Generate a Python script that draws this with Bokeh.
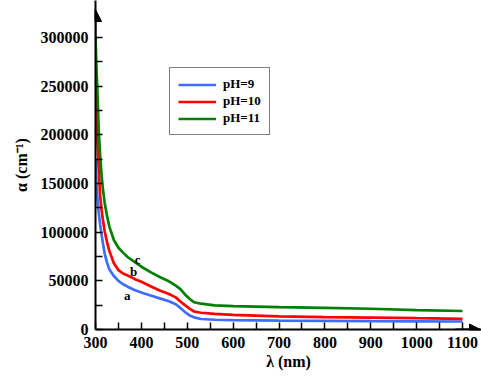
from bokeh.plotting import figure
from bokeh.models import Range1d, FixedTicker, BasicTickFormatter, Label, Arrow, NormalHead
from bokeh.embed import file_html
from bokeh.resources import INLINE

# ---------------- data ----------------
wavelength = [300, 302, 304, 307, 310, 313, 316, 320, 325, 330, 340, 350, 360, 370, 385,
              400, 420, 440, 460, 475, 485, 495, 505, 515, 530, 560, 600, 700, 800, 900,
              1000, 1100]
alpha_ph9 = [175000, 150000, 136000, 120000, 108000, 98000, 89000, 78000, 69000, 62000,
             55000, 50000, 46500, 44000, 40500, 38000, 35000, 32000, 29000, 26000, 22000,
             18000, 14500, 12500, 10800, 10000, 9700, 9200, 8900, 8600, 8400, 8200]
alpha_ph10 = [245000, 215000, 195000, 165000, 138000, 124000, 113000, 101000, 90000, 81000,
              68000, 61000, 57500, 55500, 52000, 49000, 44500, 40000, 36500, 33000, 28800,
              25000, 21500, 18500, 17200, 16000, 15000, 13400, 12800, 12300, 11600, 11000]
alpha_ph11 = [300000, 270000, 247000, 205000, 180000, 160000, 145000, 130000, 117000, 106000,
              92000, 84000, 79000, 74500, 69500, 64500, 59000, 54000, 49500, 45000, 41500,
              36000, 31500, 28000, 26500, 24800, 24000, 23000, 22200, 21300, 20000, 19000]
series_names = ["pH=9", "pH=10", "pH=11"]
x_ticks = [300, 400, 500, 600, 700, 800, 900, 1000, 1100]
x_minor_ticks = [350, 450, 550, 650, 750, 850, 950, 1050]
y_ticks = [0, 50000, 100000, 150000, 200000, 250000, 300000]
y_minor_ticks = [25000, 75000, 125000, 175000, 225000, 275000]
curve_tags = ["a", "b", "c"]
tag_x = [369, 383, 392]
tag_y = [34600, 59300, 71700]

# ---------------- layout (page has no margin) ----------------
W, H = 481, 376
AX_X, AX_Y = 95, 329          # pixel position of the axes' origin
PX_PER_NM = 367 / 800.0
PX_PER_UNIT = 292 / 300000.0
X0, Y0 = 300, 0
BL, BR, BT, BB = AX_X, 0, 0, H - AX_Y
x_end = X0 + (W - BR - AX_X) / PX_PER_NM
y_end = Y0 + (AX_Y - BT) / PX_PER_UNIT

FONT = "Liberation Serif"

p = figure(width=W, height=H, output_backend="svg", toolbar_location=None,
           x_range=Range1d(X0, x_end), y_range=Range1d(Y0, y_end),
           min_border_left=BL, min_border_right=BR, min_border_top=BT,
           min_border_bottom=BB)
p.grid.visible = False
p.outline_line_alpha = 0

colors = ["#3d6eff", "#ff0000", "#008000"]
for ys, name, c in zip([alpha_ph9, alpha_ph10, alpha_ph11], series_names, colors):
    p.line(wavelength, ys, line_color=c, line_width=2.7, legend_label=name)

# axes
p.xaxis.ticker = FixedTicker(ticks=x_ticks, minor_ticks=x_minor_ticks)
p.yaxis.ticker = FixedTicker(ticks=y_ticks, minor_ticks=y_minor_ticks)
p.yaxis.formatter = BasicTickFormatter(use_scientific=False)
p.xaxis.axis_line_width = 2
p.yaxis.axis_line_width = 2
p.xaxis.axis_line_color = "black"
p.yaxis.axis_line_color = "black"
p.xaxis.major_tick_line_width = 1.5
p.yaxis.major_tick_line_width = 1.5
p.xaxis.minor_tick_line_width = 1.5
p.yaxis.minor_tick_line_width = 1.5
p.xaxis.major_tick_in = 7
p.yaxis.major_tick_in = 7
p.xaxis.major_tick_out = 0
p.yaxis.major_tick_out = 0
p.xaxis.minor_tick_in = 7
p.yaxis.minor_tick_in = 7
p.xaxis.minor_tick_out = 0
p.yaxis.minor_tick_out = 0
p.xaxis.major_label_text_font = FONT
p.yaxis.major_label_text_font = FONT
p.xaxis.major_label_text_font_style = "bold"
p.yaxis.major_label_text_font_style = "bold"
p.xaxis.major_label_text_font_size = "16px"
p.yaxis.major_label_text_font_size = "16px"
p.xaxis.major_label_text_color = "black"
p.yaxis.major_label_text_color = "black"
p.xaxis.axis_label_text_font = FONT
p.yaxis.axis_label_text_font = FONT
p.xaxis.axis_label_text_font_style = "bold"
p.yaxis.axis_label_text_font_style = "bold"
p.xaxis.axis_label_text_font_size = "16px"
p.yaxis.axis_label_text_font_size = "16px"
p.xaxis.axis_label_text_color = "black"
p.yaxis.axis_label_text_color = "black"
p.xaxis.major_label_standoff = 7
p.xaxis.axis_label = "λ (nm)"
p.xaxis.axis_label_standoff = 2
p.yaxis.major_label_standoff = 7
p.yaxis.axis_label = "α (cm⁻¹)"
p.yaxis.axis_label_standoff = 8

# arrow heads at the ends of the axes
p.add_layout(Arrow(end=NormalHead(size=12, fill_color="black", line_color="black"),
                   x_start=X0, y_start=Y0 + (AX_Y - 40) / PX_PER_UNIT,
                   x_end=X0, y_end=Y0 + (AX_Y - 9) / PX_PER_UNIT,
                   line_color="black", line_width=2))
p.add_layout(Arrow(end=NormalHead(size=11, fill_color="black", line_color="black"),
                   x_start=X0 + (455 - AX_X) / PX_PER_NM, y_start=Y0,
                   x_end=X0 + (480 - AX_X) / PX_PER_NM, y_end=Y0,
                   line_color="black", line_width=2))

# curve tags
for t, tx, ty in zip(curve_tags, tag_x, tag_y):
    p.add_layout(Label(x=tx, y=ty, text=t, text_font=FONT, text_font_style="bold",
                       text_font_size="13px", text_align="center",
                       text_baseline="middle", text_color="black"))

# legend
lg = p.legend[0]
lg.location = (169 - BL, H - BB - 135)
lg.border_line_color = "black"
lg.border_line_width = 1.5
lg.padding = 8
lg.margin = 0
lg.spacing = 1
lg.glyph_width = 38
lg.glyph_height = 15
lg.label_height = 15
lg.label_standoff = 7
lg.label_text_font = FONT
lg.label_text_font_style = "bold"
lg.label_text_font_size = "13px"
lg.label_text_color = "black"

open("out.html", "w").write(file_html(p, INLINE))
